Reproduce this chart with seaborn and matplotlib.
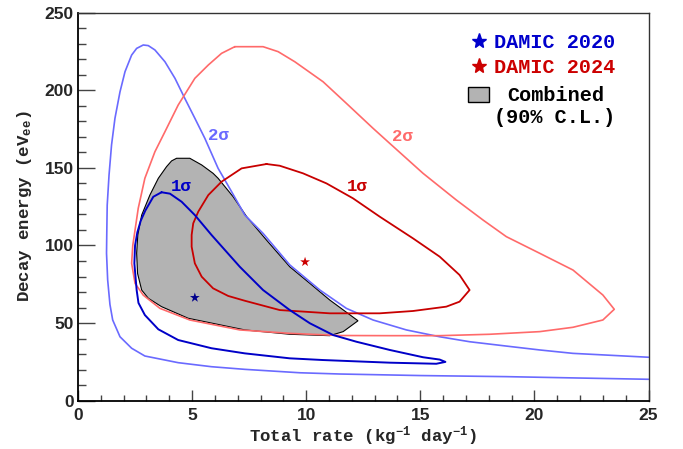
import matplotlib
matplotlib.use("Agg")
import matplotlib.pyplot as plt
import seaborn as sns
import numpy as np
import pandas as pd
from matplotlib.lines import Line2D
from matplotlib.patches import Patch

# ---------------- data ----------------
# DAMIC 2020, 2 sigma contour (open curve)
d20_2s_x = [25.0, 23.15, 21.69, 20.23, 18.77, 17.16, 15.85, 14.39, 12.93, 11.76, 10.6, 9.28,
            8.11, 7.31, 6.73, 6.14, 5.56, 5.12, 4.68, 4.25, 3.81, 3.37, 3.08, 2.86, 2.57, 2.35,
            2.06, 1.84, 1.62, 1.47, 1.36, 1.28, 1.26, 1.25, 1.30, 1.40, 1.52, 1.84, 2.35, 2.93,
            4.39, 5.85, 7.31, 9.72, 11.47, 15.0, 18.77, 22.0, 25.0]
d20_2s_y = [28.0, 29.4, 30.5, 32.7, 35.2, 38.0, 41.2, 45.6, 52.0, 59.5, 71.3, 87.5,
            107.8, 119.6, 134.7, 149.7, 169.0, 182.0, 194.8, 207.7, 218.4, 226.0, 228.8, 229.2,
            227.0, 222.7, 212.0, 199.0, 182.0, 164.8, 145.4, 126.0, 106.8, 95.0, 77.8, 62.0,
            52.0, 41.2, 33.8, 28.8, 24.5, 21.9, 20.2, 18.0, 17.2, 16.2, 15.5, 14.6, 13.8]

# DAMIC 2020, 1 sigma contour (closed)
d20_1s_x = [3.66, 4.03, 4.54, 5.12, 5.85, 7.09, 8.11, 9.28, 10.16, 11.18, 12.2, 13.66, 15.12,
            15.85, 16.1, 15.7, 13.66, 10.74, 9.28, 7.31, 5.85, 4.39, 3.52, 2.93, 2.65, 2.57,
            2.47, 2.5, 2.6, 2.75, 2.95, 3.3, 3.66]
d20_1s_y = [134.3, 133.4, 128.2, 119.6, 106.8, 86.3, 71.3, 58.4, 49.9, 42.3, 38.0, 32.7, 28.0,
            26.5, 25.0, 23.8, 24.5, 26.2, 27.3, 30.5, 33.8, 39.1, 46.0, 55.2, 63.0, 71.3,
            88.5, 100.0, 108.5, 116.0, 122.5, 131.4, 134.3]

# DAMIC 2024, 2 sigma contour (closed)
d24_2s_x = [6.87, 8.11, 8.77, 9.5, 10.74, 11.76, 12.93, 13.66, 15.12, 16.58, 17.75,
            18.77, 20.23, 21.69, 23.0, 23.5, 23.0, 21.69, 20.23, 18.04, 15.85, 13.66, 11.47,
            9.28, 7.09, 4.9, 3.59, 2.86, 2.5, 2.35, 2.4, 2.5, 2.64, 2.93, 3.37, 3.81, 4.39,
            5.12, 5.71, 6.29, 6.87]
d24_2s_y = [228.1, 228.1, 224.9, 218.4, 205.5, 191.6, 175.5, 165.8, 146.5, 129.3, 116.4,
            105.7, 95.0, 84.2, 68.1, 58.9, 52.0, 47.3, 44.5, 42.8, 41.9, 41.9, 42.0,
            43.4, 45.6, 52.0, 59.5, 68.0, 75.6, 88.5, 100.0, 110.0, 124.0, 143.3, 160.4, 173.3,
            190.5, 207.7, 216.3, 223.8, 228.1]

# DAMIC 2024, 1 sigma contour (closed)
d24_1s_x = [8.26, 8.84, 9.86, 10.89, 12.05, 13.22, 14.68, 15.85, 16.72, 17.16, 16.72, 16.14,
            14.68, 13.22, 11.03, 8.84, 7.31, 6.58, 5.92, 5.42, 5.12, 4.98, 4.98, 5.05, 5.27,
            5.71, 6.29, 7.17, 8.26]
d24_1s_y = [152.5, 151.4, 146.5, 140.0, 130.4, 118.6, 104.6, 92.8, 81.0, 71.3, 63.8, 60.6,
            57.8, 56.3, 56.3, 58.4, 64.4, 67.5, 72.4, 79.9, 88.5, 99.2, 106.8, 114.3, 121.8,
            132.5, 141.1, 149.7, 152.5]

# Combined 90% C.L. region
comb_x = [4.32, 4.90, 5.42, 5.92, 6.14, 6.8, 7.39, 8.26, 9.28, 10.16, 11.03, 12.27, 11.62,
          11.03, 9.28, 7.31, 4.83, 3.66, 3.08, 2.79, 2.61, 2.57, 2.62, 2.79, 3.15, 3.52,
          3.88, 4.1]
comb_y = [156.2, 156.2, 151.9, 146.5, 143.3, 131.4, 118.6, 103.5, 86.3, 75.6, 64.9, 51.5,
          44.5, 41.9, 42.8, 45.6, 53.1, 60.6, 66.0, 71.3, 82.0, 95.0, 106.8, 119.6, 132.5,
          143.3, 150.8, 154.5]

# best-fit points
best_names = ["DAMIC 2020", "DAMIC 2024"]
best_x = [5.12, 9.95]
best_y = [66.4, 89.4]

# contour labels
lab_text = ["2σ", "1σ", "2σ", "1σ"]
lab_x = [6.14, 4.54, 14.21, 12.24]
lab_y = [170.6, 137.9, 170.0, 137.9]

x_ticks = [0, 5, 10, 15, 20, 25]
y_ticks = [0, 50, 100, 150, 200, 250]

# ---------------- styling ----------------
C_2020_2s = "#6a6aff"
C_2020_1s = "#0000c8"
C_2024_2s = "#ff6a6a"
C_2024_1s = "#c80000"
C_fill = "#b3b3b3"
lab_colors = [C_2020_2s, C_2020_1s, C_2024_2s, C_2024_1s]

sns.set_theme(style="white")
plt.rcParams["font.family"] = ["Liberation Mono", "DejaVu Sans"]
plt.rcParams["mathtext.fontset"] = "custom"
plt.rcParams["mathtext.rm"] = "Liberation Mono:bold"
plt.rcParams["mathtext.it"] = "Liberation Mono:bold"
plt.rcParams["mathtext.bf"] = "Liberation Mono:bold"
plt.rcParams["mathtext.default"] = "rm"

fig = plt.figure(figsize=(6.83, 4.49), dpi=100)
ax = fig.add_axes([78 / 683, (449 - 400.7) / 449, 570.5 / 683, 388 / 449])

ax.fill(comb_x, comb_y, facecolor=C_fill, edgecolor="black", linewidth=0.8, zorder=1)

curves = [
    (d20_2s_x, d20_2s_y, C_2020_2s, 1.2),
    (d24_2s_x, d24_2s_y, C_2024_2s, 1.2),
    (d24_1s_x, d24_1s_y, C_2024_1s, 1.3),
    (d20_1s_x, d20_1s_y, C_2020_1s, 1.4),
]
for cx, cy, col, lw in curves:
    df = pd.DataFrame({"x": cx, "y": cy})
    sns.lineplot(data=df, x="x", y="y", sort=False, estimator=None, color=col,
                 linewidth=lw, ax=ax, zorder=2)

df_best = pd.DataFrame({"x": best_x, "y": best_y, "name": best_names})
sns.scatterplot(data=df_best, x="x", y="y", hue="name",
                palette={"DAMIC 2020": "#00008b", "DAMIC 2024": "#cc0000"},
                marker="*", s=55, linewidth=0, ax=ax, legend=False, zorder=3)

for t, x, y, c in zip(lab_text, lab_x, lab_y, lab_colors):
    ax.text(x, y, t, color=c, fontsize=12.5, fontweight="bold",
            ha="center", va="center", family=["Liberation Mono", "DejaVu Sans"])

ax.set_xlim(0, 25)
ax.set_ylim(0, 250)
ax.set_xticks(x_ticks)
ax.set_yticks(y_ticks)
ax.set_xticks(np.arange(0, 25.1, 1), minor=True)
ax.set_yticks(np.arange(0, 250.1, 10), minor=True)
ax.set_xticklabels([str(v) for v in x_ticks], fontfamily="Liberation Sans",
                   fontweight="bold", fontsize=12.5)
ax.set_yticklabels([str(v) for v in y_ticks], fontfamily="Liberation Sans",
                   fontweight="bold", fontsize=12.5)
ax.tick_params(axis="x", which="major", direction="in", length=8, width=1, color="#444444",
               pad=5.5, bottom=True, top=False)
ax.tick_params(axis="x", which="minor", direction="in", length=4.3, width=1, color="#444444",
               bottom=True, top=False)
ax.tick_params(axis="y", which="major", direction="in", length=12, width=1, color="#444444",
               pad=3, left=True, right=False)
ax.tick_params(axis="y", which="minor", direction="in", length=5.8, width=1, color="#444444",
               left=True, right=False)
for side in ["left", "bottom"]:
    ax.spines[side].set_color("black")
    ax.spines[side].set_linewidth(1.3)
for side in ["top", "right"]:
    ax.spines[side].set_color("#333333")
    ax.spines[side].set_linewidth(1.0)

ax.set_xlabel("Total rate (kg$^{-1}$ day$^{-1}$)", fontsize=12.5, fontweight="bold",
              labelpad=1)
ax.set_ylabel("Decay energy (eV$_{ee}$)", fontsize=12.5, fontweight="bold", labelpad=8)

leg_prop = {"family": "Liberation Mono", "weight": "bold", "size": 14.5}
star_handles = [
    Line2D([], [], marker="*", color="#0000cc", linestyle="none", markersize=11),
    Line2D([], [], marker="*", color="#cc0000", linestyle="none", markersize=11),
]
leg1 = ax.legend(star_handles, ["DAMIC 2020", "DAMIC 2024"],
                 loc="upper left", bbox_to_anchor=(0.683, 0.9477), frameon=False,
                 borderpad=0, borderaxespad=0, handlelength=1.1,
                 handletextpad=0.23, labelspacing=0.28, prop=leg_prop,
                 labelcolor=["#0000cc", "#cc0000"])
ax.add_artist(leg1)
leg2 = ax.legend([Patch(facecolor=C_fill, edgecolor="black", linewidth=1.0)], ["Combined"],
                 loc="upper left", bbox_to_anchor=(0.683, 0.8105), frameon=False,
                 borderpad=0, borderaxespad=0, handlelength=1.08, handleheight=0.8,
                 handletextpad=0.87, prop=leg_prop, labelcolor=["black"])
ax.text(0.836, 0.731, "(90% C.L.)", transform=ax.transAxes, ha="center", va="center",
        fontsize=14.5, fontweight="bold", family="Liberation Mono", color="black")

fig.savefig("out.png", dpi=100)
